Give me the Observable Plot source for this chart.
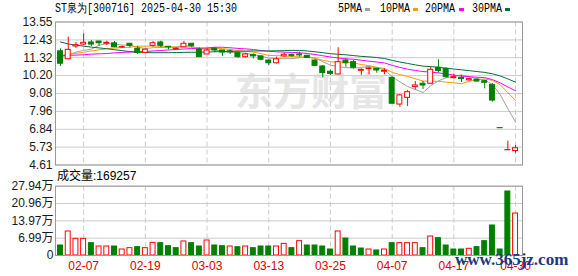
<!DOCTYPE html>
<html><head><meta charset="utf-8">
<script src="https://cdn.jsdelivr.net/npm/d3@7"></script>
<script src="https://cdn.jsdelivr.net/npm/@observablehq/plot@0.6"></script>
<style>
body{margin:0;background:#fff}
#wrap{position:relative;width:578px;height:276px;overflow:hidden;background:#fff}
#wrap svg{position:absolute;left:0}
.abs{position:absolute;white-space:nowrap}
.mono{font-family:"Liberation Mono",monospace;font-size:12px;line-height:12px;transform:scaleX(0.8333);transform-origin:0 0;color:#000}
.blk{position:absolute;width:5px;height:3px}
</style></head><body>
<div id="wrap"></div>
<script>
// ---- data ----
const tickIdx = [3, 11, 19, 27, 35, 43, 51, 59];
const tickLabels = ["02-07", "02-19", "03-03", "03-13", "03-25", "04-07", "04-17", "04-30"];
const priceTicks = [13.55, 12.43, 11.32, 10.20, 9.08, 7.96, 6.84, 5.73, 4.61];
const volTicks = [0, 6.99, 13.97, 20.96, 27.94];

const opens = [11.72,11.22,12.02,12.14,12.27,12.33,12.19,12.22,11.95,12.19,
  11.88,11.62,12.06,12.27,12.00,11.85,11.97,12.19,11.83,11.52,
  11.88,11.77,11.72,11.60,11.35,11.48,11.40,11.14,10.97,11.40,
  11.48,11.52,11.44,11.14,10.77,10.44,10.27,11.14,11.04,10.50,
  10.60,10.62,10.44,10.06,8.39,8.81,9.48,9.69,9.69,10.69,
  10.62,10.04,10.06,9.90,9.94,9.85,9.62,6.92,5.53,5.48];
const highs = [11.87,12.60,12.27,12.81,12.39,12.33,12.35,12.33,12.05,12.19,
  12.02,11.85,12.33,12.35,12.00,11.95,12.33,12.19,11.93,11.88,
  11.94,11.77,11.80,11.68,11.60,11.56,11.40,11.19,11.35,11.60,
  11.56,11.66,11.46,11.20,10.83,10.55,11.94,11.25,11.14,10.62,
  10.72,10.66,10.62,10.12,9.02,9.27,9.83,9.83,10.72,11.19,
  10.69,10.27,10.21,10.04,10.00,9.90,9.69,6.92,6.10,5.83];
const lows = [10.77,11.19,11.90,12.08,12.02,12.02,12.08,11.94,11.90,11.94,
  11.52,11.58,11.97,11.94,11.80,11.80,11.94,11.94,11.35,11.52,
  11.64,11.40,11.52,11.30,11.30,11.23,11.12,10.83,10.92,11.35,
  11.35,11.35,11.27,10.77,10.06,10.21,10.25,10.72,10.60,10.21,
  10.25,10.35,10.25,8.42,8.22,8.27,9.31,9.33,9.64,10.35,
  10.04,10.00,9.77,9.85,9.79,9.37,8.54,6.91,5.53,5.35];
const closes = [10.94,11.81,12.10,12.25,12.14,12.22,12.25,11.97,11.98,12.06,
  11.62,11.82,12.22,12.06,11.97,11.88,12.19,12.04,11.35,11.77,
  11.77,11.64,11.66,11.35,11.52,11.40,11.19,10.97,11.22,11.50,
  11.43,11.46,11.31,10.81,10.35,10.31,11.04,10.97,10.69,10.56,
  10.65,10.52,10.50,8.44,8.96,9.16,9.58,9.58,10.56,10.48,
  10.10,10.10,9.98,9.98,9.83,9.75,8.64,6.91,5.54,5.66];

const ma5 = [11.35,11.50,11.66,11.78,11.85,12.10,12.19,12.17,12.11,12.10,
  11.98,11.89,11.94,11.96,11.94,11.99,12.06,12.03,11.89,11.85,
  11.82,11.71,11.64,11.64,11.59,11.51,11.42,11.29,11.26,11.26,
  11.26,11.32,11.38,11.30,11.07,10.85,10.76,10.70,10.67,10.71,
  10.78,10.68,10.58,10.13,9.81,9.52,9.33,9.14,9.57,9.87,
  10.06,10.16,10.24,10.13,10.00,9.93,9.64,9.02,8.13,7.30];
const ma10 = [11.46,11.52,11.58,11.66,11.74,11.81,11.88,11.92,11.95,11.97,
  12.04,12.04,12.05,12.03,12.02,11.98,11.98,11.98,11.92,11.89,
  11.91,11.89,11.83,11.76,11.72,11.67,11.57,11.46,11.45,11.42,
  11.39,11.37,11.34,11.28,11.16,11.06,11.04,11.04,10.99,10.89,
  10.82,10.72,10.64,10.40,10.26,10.15,10.00,9.86,9.85,9.84,
  9.79,9.75,9.69,9.85,9.94,9.99,9.90,9.63,9.13,8.65];
const ma20 = [11.46,11.46,11.48,11.50,11.54,11.56,11.58,11.62,11.65,11.67,
  11.69,11.71,11.74,11.77,11.80,11.83,11.86,11.89,11.91,11.93,
  11.97,11.97,11.94,11.90,11.87,11.83,11.77,11.72,11.69,11.66,
  11.65,11.63,11.58,11.52,11.44,11.36,11.30,11.25,11.22,11.16,
  11.10,11.05,10.99,10.84,10.71,10.60,10.52,10.45,10.42,10.37,
  10.30,10.23,10.17,10.13,10.10,10.07,9.95,9.75,9.49,9.25];
const ma30 = [12.30,12.18,12.10,12.04,11.98,11.93,11.88,11.82,11.76,11.70,
  11.66,11.64,11.63,11.63,11.63,11.64,11.65,11.66,11.66,11.67,
  11.69,11.70,11.71,11.72,11.73,11.74,11.74,11.74,11.75,11.76,
  11.78,11.77,11.74,11.69,11.63,11.57,11.53,11.50,11.45,11.40,
  11.37,11.33,11.27,11.15,11.05,10.96,10.87,10.79,10.76,10.72,
  10.66,10.61,10.56,10.51,10.45,10.40,10.31,10.18,9.99,9.79];

const vols = [4.03,9.68,6.72,6.72,4.97,3.63,3.63,3.63,2.42,2.96,
  3.36,2.96,5.11,4.97,3.76,2.96,5.65,4.97,3.63,6.05,
  4.03,3.76,3.63,3.36,3.63,2.96,3.63,3.63,3.63,4.70,
  2.96,5.78,4.03,4.03,3.63,2.42,9.68,6.85,3.63,2.82,
  2.42,2.02,2.42,4.97,4.97,4.97,4.97,2.96,7.66,6.99,
  4.03,2.42,2.42,2.69,3.36,5.78,12.10,2.42,25.80,16.93];
const volUp = [0,1,1,1,0,1,1,0,1,1, 0,1,1,0,0,0,1,0,0,1,
  0,0,1,0,1,0,0,0,1,1, 0,1,0,0,0,0,1,0,0,0,
  1,0,1,0,1,1,1,0,1,0, 0,0,0,1,0,0,0,0,0,1];

const legendNames = ["5PMA", "10PMA", "20PMA", "30PMA"];
const maColors = ["#a0a0a0", "#f0a000", "#ff00ff", "#00703a"];
const RED = "#ff0000", GREEN = "#008000";

// ---- build tables ----
const candles = opens.map((o, i) => ({i, open: o, high: highs[i], low: lows[i], close: closes[i], up: closes[i] > o}));
const volRows = vols.map((v, i) => ({i, v, up: volUp[i] === 1}));
const maList = [ma5, ma10, ma20, ma30];
const xDomain = [-0.65, 59.9];
const HW = 0.32;
const font = "'Liberation Sans', 'Noto Sans CJK SC', sans-serif";

const price = Plot.plot({
  width: 578, height: 170,
  marginLeft: 55, marginRight: 56, marginTop: 21.5, marginBottom: 5.5,
  x: {domain: xDomain, axis: null},
  y: {domain: [4.61, 13.55], label: null, axis: null},
  style: {background: "transparent", fontFamily: font, fontSize: "12px", color: "#222", overflow: "visible"},
  marks: [
    Plot.text(["东方财富"], {frameAnchor: "middle", dx: 22, dy: -1, fontSize: 38, fontWeight: "bold", fill: "#e6e6e6", fontFamily: "'Noto Sans CJK SC', sans-serif"}),
    Plot.gridY(priceTicks, {stroke: "#cccccc", strokeOpacity: 1}),
    Plot.ruleX(tickIdx, {stroke: "#cccccc", strokeDasharray: "5,3"}),
    ...maList.map((m, k) => Plot.line(m.map((v, i) => ({i, v})), {x: "i", y: "v", stroke: maColors[k], strokeWidth: 1})),
    Plot.ruleX(candles, {x: "i", y1: "low", y2: "high", stroke: d => d.up ? RED : GREEN}),
    Plot.rect(candles, {x1: d => d.i - HW, x2: d => d.i + HW, y1: "open", y2: "close",
      fill: d => d.up ? "#ffffff" : GREEN, stroke: d => d.up ? RED : GREEN}),
    Plot.frame({stroke: "#999999"}),
    Plot.axisY(priceTicks, {tickSize: 0, tickPadding: 3, tickFormat: d => d.toFixed(2), label: null, fill: "#1a1a1a"})
  ]
});

const volume = Plot.plot({
  width: 578, height: 106,
  marginLeft: 55, marginRight: 56, marginTop: 15.7, marginBottom: 21,
  x: {domain: xDomain, axis: null},
  y: {domain: [0, 27.94], label: null, axis: null},
  style: {background: "transparent", fontFamily: font, fontSize: "12px", color: "#222", overflow: "visible"},
  marks: [
    Plot.gridY(volTicks, {stroke: "#cccccc", strokeOpacity: 1}),
    Plot.ruleX(tickIdx, {stroke: "#cccccc", strokeDasharray: "5,3"}),
    Plot.rect(volRows, {x1: d => d.i - HW, x2: d => d.i + HW, y1: 0, y2: "v",
      fill: d => d.up ? "#ffffff" : GREEN, stroke: d => d.up ? RED : GREEN}),
    Plot.frame({stroke: "#999999"}),
    Plot.axisY(volTicks, {tickSize: 0, tickPadding: 2, label: null, fill: "#1a1a1a",
      tickFormat: d => d === 0 ? "0" : d.toFixed(2) + "万"}),
    Plot.axisX(tickIdx, {tickSize: 0, tickPadding: 6, label: null, fill: "#e00000",
      tickFormat: d => tickLabels[tickIdx.indexOf(d)]})
  ]
});

const wrap = document.getElementById("wrap");
price.style.top = "0px";
volume.style.top = "170px";
wrap.appendChild(price);
wrap.appendChild(volume);

function addDiv(cls, text, left, top, extra) {
  const el = document.createElement("div");
  el.className = cls;
  el.textContent = text;
  el.style.left = left + "px";
  el.style.top = top + "px";
  if (extra) Object.assign(el.style, extra);
  wrap.appendChild(el);
  return el;
}
addDiv("abs mono", "ST泉为[300716] 2025-04-30 15:30", 55, 3);
const legLeft = [338, 380, 425, 472];
const blkLeft = [365, 413, 459, 505];
legendNames.forEach((n, k) => {
  addDiv("abs mono", n, legLeft[k], 3);
  const b = addDiv("blk", "", blkLeft[k], 8);
  b.style.background = maColors[k];
});
addDiv("abs", "成交量:169257", 57, 169, {fontFamily: font, fontSize: "12px", lineHeight: "14px", color: "#000"});
addDiv("abs", "www.365jz.com", 455, 250, {fontFamily: "'Liberation Serif', serif", fontSize: "17px", fontWeight: "bold", color: "#1d3b7a", lineHeight: "20px"});
</script></body></html>
